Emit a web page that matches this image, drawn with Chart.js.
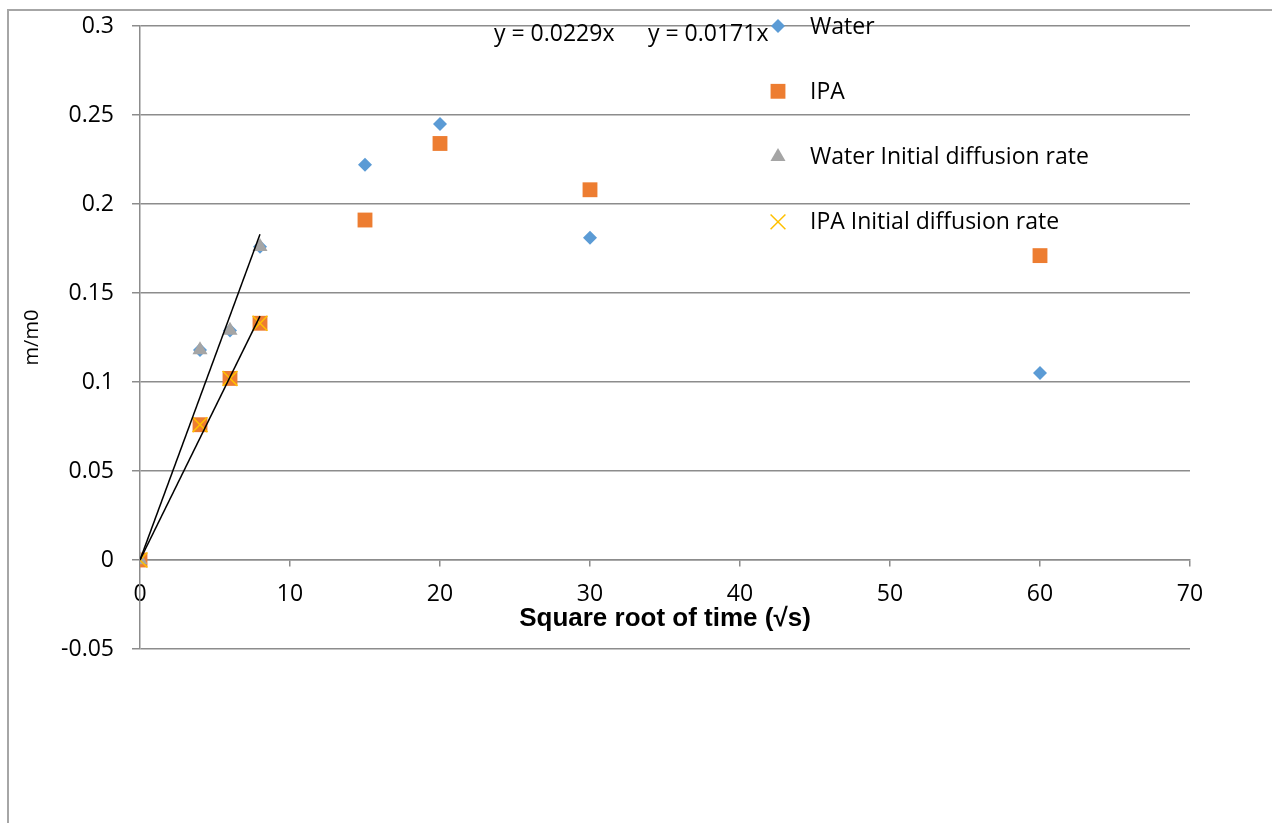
<html>
  <head>
    <title>m/m0 vs square root of time</title>
    <script src="https://cdn.jsdelivr.net/npm/chart.js@4.4.0/dist/chart.umd.min.js"></script>
    <style>
      body   { margin:0; background:#fff; }
      .frame { position:absolute; left:7px; top:9px; width:1265px; height:814px; border-left:2px solid #a6a6a6; border-top:2px solid #a6a6a6; }
      .wrap  { position:absolute; left:0; top:0; width:1272px; height:823px; }
    </style>
  </head>
  <body>
    <div class="frame"></div>
    <div class="wrap"><canvas id="myChart"></canvas></div>
    <script>
      // values
      var timeX        = [0, 4, 6, 8, 15, 20, 30, 60];
      var waterY       = [0, 0.118, 0.129, 0.176, 0.222, 0.245, 0.181, 0.105];
      var ipaY         = [0, 0.076, 0.102, 0.133, 0.191, 0.234, 0.208, 0.171];
      var initX        = [0, 4, 6, 8];
      var waterInitY   = [0, 0.118, 0.129, 0.176];
      var ipaInitY     = [0, 0.076, 0.102, 0.133];
      var trendX       = [0, 8];
      var waterTrendY  = [0, 0.183];
      var ipaTrendY    = [0, 0.137];
      var trendLabels  = ['y = 0.0229x', 'y = 0.0171x'];
      var seriesNames  = ['Water', 'IPA', 'Water Initial diffusion rate', 'IPA Initial diffusion rate'];

      var FONT = "'Open Sans', 'Noto Sans', sans-serif";

      function pts(xs, ys) {
        return xs.map(function(x, i) { return {x: x, y: ys[i]}; });
      }

      function scatter(label, xs, ys, style, color, radius, order) {
        return {
          label: label,
          data: pts(xs, ys),
          showLine: false,
          pointStyle: style,
          pointRadius: radius,
          pointHoverRadius: radius,
          pointBackgroundColor: color,
          pointBorderColor: color,
          pointBorderWidth: style == 'crossRot' ? 1.5 : 0,
          borderColor: color,
          backgroundColor: color,
          order: order,
          inLegend: true
        };
      }

      function trend(xs, ys) {
        return {
          data: pts(xs, ys),
          showLine: true,
          borderColor: '#000',
          borderWidth: 1.5,
          pointRadius: 0,
          fill: false,
          order: 0,
          inLegend: false
        };
      }

      // legend + trendline equations, placed like the spreadsheet did
      var extrasPlugin = {
        id: 'extras',
        afterDraw: function(chart) {
          var ctx = chart.ctx;
          ctx.save();
          ctx.font = '23px ' + FONT;
          ctx.fillStyle = '#000';
          ctx.textBaseline = 'middle';
          ctx.textAlign = 'left';
          ctx.fillText(trendLabels[0], 494, 34);
          ctx.fillText(trendLabels[1], 648, 34);

          var row = 0;
          chart.data.datasets.forEach(function(ds) {
            if (!ds.inLegend) return;
            var y = 26 + row * 65.3;
            ctx.fillStyle = ds.pointBackgroundColor;
            ctx.strokeStyle = ds.pointBorderColor;
            ctx.lineWidth = ds.pointBorderWidth || 1;
            Chart.helpers.drawPoint(ctx, {
              pointStyle: ds.pointStyle,
              radius: ds.pointRadius,
              rotation: 0,
              borderWidth: ds.pointBorderWidth
            }, 778, y);
            ctx.fillStyle = '#000';
            ctx.fillText(ds.label, 810, y + 1);
            row++;
          });
          ctx.restore();
        }
      };

      var ctx = document.getElementById('myChart').getContext('2d');
      var myChart = new Chart(ctx, {
        type: 'scatter',
        data: {
          datasets: [
            scatter(seriesNames[0], timeX, waterY, 'rectRot', '#5b9bd5', 7, 5),
            scatter(seriesNames[1], timeX, ipaY, 'rect', '#ed7d31', 10.5, 4),
            scatter(seriesNames[2], initX, waterInitY, 'triangle', '#a5a5a5', 8.7, 3),
            scatter(seriesNames[3], initX, ipaInitY, 'crossRot', '#ffc000', 10.5, 2),
            trend(trendX, waterTrendY),
            trend(trendX, ipaTrendY)
          ]
        },
        options: {
          responsive: true,
          maintainAspectRatio: false,
          animation: false,
          layout: { padding: { left: 0, right: 82, top: 26, bottom: 174 } },
          plugins: {
            legend: { display: false },
            tooltip: { enabled: false }
          },
          scales: {
            x: {
              type: 'linear',
              position: { y: 0 },
              min: 0,
              max: 70,
              ticks: { stepSize: 10, color: '#000', font: { family: FONT, size: 23 }, padding: 15, maxRotation: 0 },
              grid: { drawOnChartArea: false, drawTicks: true, tickLength: 6, color: '#8c8c8c', lineWidth: 1.5 },
              border: { display: true, color: '#8c8c8c', width: 1.5 },
              title: {
                display: true,
                text: 'Square root of time (√s)',
                color: '#000',
                font: { family: "'Liberation Sans', Arial, sans-serif", size: 26, weight: 'bold' },
                padding: { top: -20, bottom: 0 }
              }
            },
            y: {
              min: -0.05,
              max: 0.3,
              ticks: {
                stepSize: 0.05, color: '#000', font: { family: FONT, size: 23 }, padding: 18,
                callback: function(v) { return String(Number(v.toFixed(2)) || 0); }
              },
              grid: { color: '#8c8c8c', lineWidth: 1.5, tickLength: 8 },
              border: { display: true, color: '#8c8c8c', width: 1.5 },
              title: {
                display: true,
                text: 'm/m0',
                color: '#000',
                font: { family: FONT, size: 20 },
                padding: { top: 20, bottom: 0 }
              },
              afterFit: function(scale) {
                scale.width = 140;
                scale.paddingTop = 0;
                scale.paddingBottom = 0;
              }
            }
          }
        },
        plugins: [extrasPlugin]
      });
    </script>
  </body>
</html>
